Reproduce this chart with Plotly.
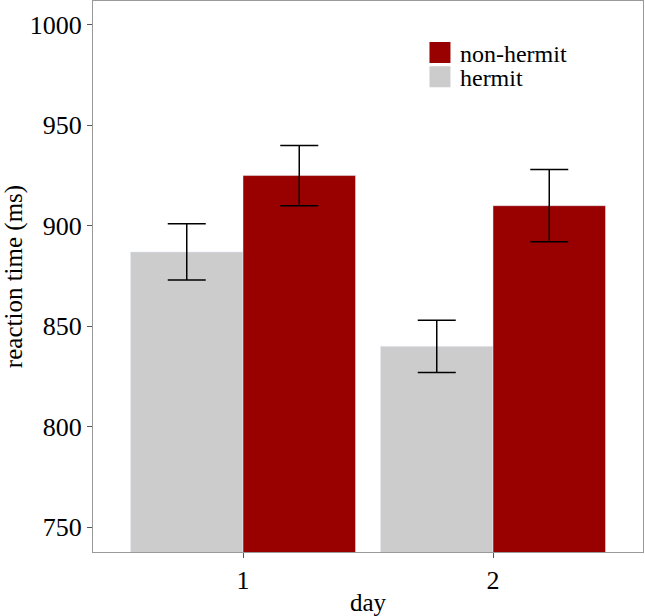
import plotly.graph_objects as go

days = [1, 2]
hermit = [887, 840]
hermit_err = [14, 13]
non_hermit = [925, 910]
non_hermit_err = [15, 18]
y_ticks = [750, 800, 850, 900, 950, 1000]

grey = "#cccccc"
red = "#990000"
font = "Liberation Serif, Times New Roman, serif"

fig = go.Figure()
fig.add_trace(go.Bar(
    x=days, y=hermit, name="hermit", marker_color=grey, offsetgroup="h",
    error_y=dict(type="data", array=hermit_err, color="black", thickness=1.5, width=19),
    showlegend=False,
))
fig.add_trace(go.Bar(
    x=days, y=non_hermit, name="non-hermit", marker_color=red, offsetgroup="n",
    error_y=dict(type="data", array=non_hermit_err, color="black", thickness=1.5, width=19),
    showlegend=False,
))

# legend keys: one small legend per entry so the row spacing can be tight
for name, col, leg in [("non-hermit", red, "legend"), ("hermit", grey, "legend2")]:
    fig.add_trace(go.Scatter(
        x=[None], y=[None], mode="markers", name=name, legend=leg,
        marker=dict(symbol="square", size=16, color=col, line=dict(color=col, width=5)),
    ))

leg_style = dict(x=0.5945, xanchor="left", yanchor="middle", font=dict(size=24),
                 itemsizing="trace", bgcolor="rgba(0,0,0,0)", borderwidth=0)

fig.update_layout(
    width=645, height=616,
    margin=dict(l=93, r=2, t=1, b=64),
    paper_bgcolor="white", plot_bgcolor="white",
    barmode="group", bargap=0.1, bargroupgap=0,
    font=dict(family=font, size=26, color="black"),
    legend=dict(y=0.9056, **leg_style),
    legend2=dict(y=0.862, **leg_style),
    xaxis=dict(range=[0.4, 2.6], tickvals=days, ticktext=[str(d) for d in days],
               title=dict(text="day", standoff=2, font=dict(size=25)), showline=True, mirror=True,
               linecolor="#999999", linewidth=1, ticks="outside", ticklen=5,
               tickcolor="#555555", showgrid=False, zeroline=False),
    yaxis=dict(range=[737.6, 1011.9], tickvals=y_ticks,
               title=dict(text="reaction time (ms)", standoff=4, font=dict(size=25)),
               showline=True, mirror=True,
               linecolor="#999999", linewidth=1, ticks="outside", ticklen=5,
               tickcolor="#555555", showgrid=False, zeroline=False),
)

fig.write_html("out.html", config={"displayModeBar": False},
               post_script="document.body.style.margin='0';")
